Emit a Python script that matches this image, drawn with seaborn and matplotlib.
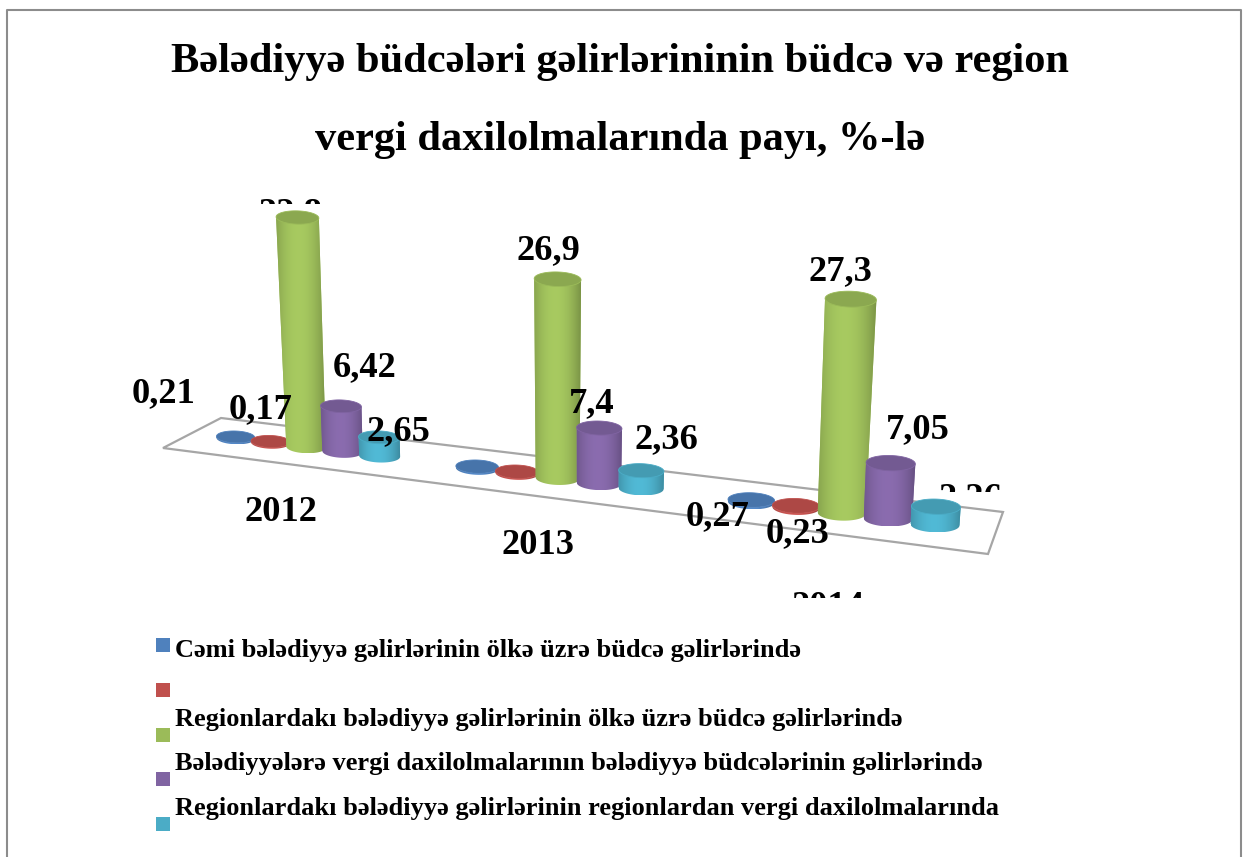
# 3d looking cylinder chart, bars come from seaborn and get pushed through a floor projection
import matplotlib
matplotlib.use('Agg')
import matplotlib.pyplot as plt
import matplotlib.transforms as mtransforms
from matplotlib.colors import to_rgb
from matplotlib.patches import Polygon, Rectangle
from matplotlib.path import Path
import numpy as np
import pandas as pd
import seaborn as sns

sns.set_theme(style='white')
plt.rcParams['font.family'] = ['Liberation Serif', 'DejaVu Serif']
plt.rcParams['font.weight'] = 'bold'

# data
YEARS = ['2012', '2013', '2014']
SERIES = ['Cəmi bələdiyyə gəlirlərinin ölkə üzrə büdcə gəlirlərində',
          '',
          'Regionlardakı bələdiyyə gəlirlərinin ölkə üzrə büdcə gəlirlərində',
          'Bələdiyyələrə vergi daxilolmalarının bələdiyyə büdcələrinin gəlirlərində',
          'Regionlardakı bələdiyyə gəlirlərinin regionlardan vergi daxilolmalarında']
TOTAL_SHARE = [0.21, 0.22, 0.27]
BLANK_SHARE = [0.17, 0.19, 0.23]
REGION_SHARE = [32.8, 26.9, 27.3]
TAX_SHARE = [6.42, 7.4, 7.05]
REGION_TAX_SHARE = [2.65, 2.36, 2.26]
TITLE_LINES = ['Bələdiyyə büdcələri gəlirlərininin büdcə və region',
               'vergi daxilolmalarında payı, %-lə']

COLORS = ['#4F81BD', '#C0504D', '#9BBB59', '#8064A2', '#4BACC6']

# label places in picture pixels (center x, baseline y), None = no label in the original
LABEL_XY = [[(164, 402), None, (718, 525)],
            [(261, 418), None, (798, 542)],
            [(291, 222), (548, 259), (840, 280)],
            [(365, 376), (592, 412), (918, 438)],
            [(398, 440), (666, 448), (970, 507)]]
LABEL_CLIP_Y = {(2, 0): 204, (4, 2): 492}
YEAR_XY = [(281, 521), (538, 554), (828, 616)]
YEAR_CLIP_Y = {2: 598}
LEGEND_BOX_Y = [645, 690, 735, 779, 824]
LEGEND_TEXT_Y = [657, 700, 726, 770, 815]

W, H = 1244, 857
SLOT = 0.153
LABEL_PX = 36.5
LEGEND_PX = 26.4
TITLE_PX = 42.4


def px_font(px):
    return px * 72 / 100


def base_x(u):
    return 306 + 235.25 * u + 16.25 * u ** 2


def floor_y(x):
    return 438.5 + 0.1235 * (x - 236.5)


def height_scale(x):
    return 7.0 + 0.00157 * (x - 306)


class FloorProjection(mtransforms.Transform):
    # (group position, value) -> picture pixels for one bar centered on u_mid,
    # the bar leans out from the middle of the chart and gets wider going up
    input_dims = 2
    output_dims = 2

    def __init__(self, u_mid):
        super().__init__()
        self.u_mid = u_mid

    def transform_non_affine(self, values):
        values = np.asarray(values, dtype=float)
        u, v = values[:, 0], values[:, 1]
        x = base_x(u)
        mid = base_x(self.u_mid)
        rise = height_scale(mid) * v
        out_x = mid + (x - mid) * (1 + 0.00035 * rise) + 0.00015 * (mid - 557.5) * rise
        return np.column_stack([out_x, floor_y(mid + 0.25 * (x - mid)) - rise])


def clip_above(txt, y):
    # keep only the part of a text above picture row y
    txt.set_clip_box(mtransforms.TransformedBbox(
        mtransforms.Bbox([[0, 0], [W, y]]), ax.transData))


df = pd.DataFrame({
    'year': np.tile(YEARS, len(SERIES)),
    'series': np.repeat(SERIES, len(YEARS)),
    'value': TOTAL_SHARE + BLANK_SHARE + REGION_SHARE + TAX_SHARE + REGION_TAX_SHARE,
})

fig = plt.figure(figsize=(W / 100, H / 100), dpi=100, facecolor='white')
ax = fig.add_axes([0, 0, 1, 1])
sns.barplot(data=df, x='year', y='value', hue='series', hue_order=SERIES, order=YEARS,
            palette=COLORS, width=SLOT * len(SERIES), gap=0, legend=False, saturation=1, ax=ax)
bars = list(ax.patches)
ax.set_xlim(0, W)
ax.set_ylim(H, 0)
ax.axis('off')

# outer frame, the bottom edge is cut off in the original
ax.plot([7, 7, 1241, 1241], [H, 10, 10, H], color='#8c8c8c', lw=1.5, zorder=1)

# floor
ax.add_patch(Polygon([(163, 448), (221, 418), (1003, 512), (988, 554)], closed=True,
                     facecolor='white', edgecolor='#a6a6a6', lw=1.6, zorder=2))


def disc(projection, u, half, v):
    # ellipse at height v, picture pixels
    t = np.linspace(0, 2 * np.pi, 81)
    pts = projection.transform_non_affine(np.column_stack([u + half * np.cos(t), np.full(t.shape, v)]))
    hh = 0.155 * (pts[:, 0].max() - pts[:, 0].min())
    pts[:, 1] = pts[:, 1] + hh * np.sin(t)
    return pts


z = 3
for i, bar in enumerate(bars):
    s = i // len(YEARS)
    color = np.array(to_rgb(COLORS[s]))
    u = bar.get_x() + bar.get_width() / 2
    wid = bar.get_width() * (1.1 - 0.03 * u)  # left bars are a bit wider than the slot
    val = bar.get_height()
    projection = FloorProjection(u)
    bar.set_x(u - wid / 2)
    bar.set_width(wid)
    bar.set_transform(projection + ax.transData)
    bar.set_linewidth(0)
    bar.set_zorder(z)

    low = disc(projection, u, wid / 2, 0)
    top = disc(projection, u, wid / 2, val)
    body = np.vstack([low[:41], top[40::-1]])  # front half of the base, then up and over

    # shading across the cylinder
    t = np.linspace(-1, 1, 64)
    shade = 0.84 + 0.24 * (1 - np.abs(t + 0.1) ** 2)
    img = np.clip(color[None, None, :] * shade[None, :, None], 0, 1)
    x0, x1 = body[:, 0].min(), body[:, 0].max()
    y0, y1 = body[:, 1].min(), body[:, 1].max()
    im = ax.imshow(img, extent=(x0, x1, y1, y0), aspect='auto', zorder=z + 0.1, interpolation='bilinear')
    im.set_clip_path(Path(body), transform=ax.transData)

    ax.add_patch(Polygon(top, closed=True, facecolor=color * 0.9, edgecolor=color,
                         lw=0.6, zorder=z + 0.2))
    z += 1

ax.set_xlim(0, W)
ax.set_ylim(H, 0)

# value labels, decimal comma like the original
for s, row in enumerate(LABEL_XY):
    for g, xy in enumerate(row):
        if xy is None:
            continue
        val = df['value'].to_numpy()[s * len(YEARS) + g]
        txt = ax.text(xy[0], xy[1], f'{val}'.replace('.', ','), ha='center', va='baseline',
                      fontsize=px_font(LABEL_PX), color='black', zorder=50, clip_on=True)
        if (s, g) in LABEL_CLIP_Y:
            clip_above(txt, LABEL_CLIP_Y[(s, g)])

for g, year in enumerate(YEARS):
    txt = ax.text(YEAR_XY[g][0], YEAR_XY[g][1], year, ha='center', va='baseline',
                  fontsize=px_font(LABEL_PX), color='black', zorder=50, clip_on=True)
    if g in YEAR_CLIP_Y:
        clip_above(txt, YEAR_CLIP_Y[g])

# title
ax.text(620, 72, TITLE_LINES[0], ha='center', va='baseline', fontsize=px_font(TITLE_PX), color='black')
ax.text(620, 150, TITLE_LINES[1], ha='center', va='baseline', fontsize=px_font(TITLE_PX), color='black')

# legend, spacing in the original is uneven so it is placed by hand
for s, name in enumerate(SERIES):
    ax.add_patch(Rectangle((156, LEGEND_BOX_Y[s] - 7), 14, 14, facecolor=COLORS[s], edgecolor='none', zorder=5))
    if name:
        ax.text(175, LEGEND_TEXT_Y[s], name, ha='left', va='baseline', fontsize=px_font(LEGEND_PX), color='black')

fig.savefig('out.png', dpi=100)
